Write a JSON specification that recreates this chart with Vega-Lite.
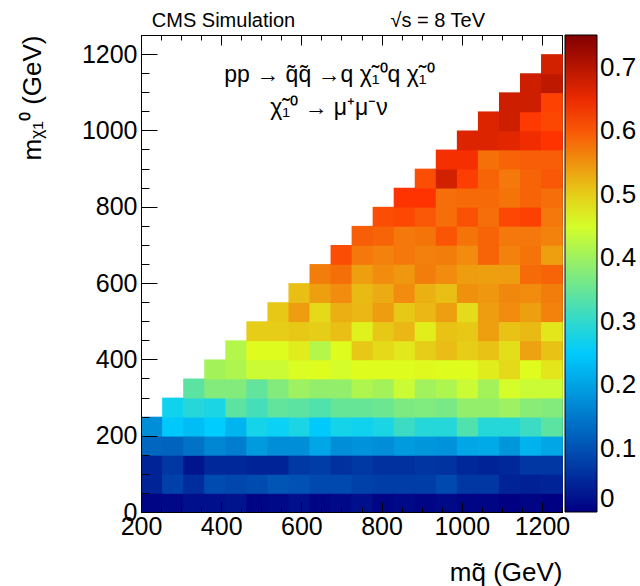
{
  "$schema": "https://vega.github.io/schema/vega-lite/v6.json",
  "width": 421,
  "height": 477,
  "autosize": {"type": "none"},
  "padding": {"left": 141, "top": 35, "right": 78, "bottom": 74},
  "background": "white",
  "config": {
    "font": "Liberation Sans",
    "view": {"stroke": "black", "strokeWidth": 1},
    "axis": {"domainColor": "black", "tickColor": "black", "labelColor": "black", "titleColor": "black", "labelFont": "Liberation Sans", "titleFont": "Liberation Sans", "labelFontSize": 25, "titleFontSize": 26, "titleFontWeight": "normal", "grid": false, "labelOverlap": false, "labelFlush": false}
  },
  "datasets": {
    "eff": [
      {"msq":200,"mchi":0,"eff":0.006},{"msq":200,"mchi":50,"eff":0.045},{"msq":200,"mchi":100,"eff":0.045},{"msq":200,"mchi":150,"eff":0.126},{"msq":200,"mchi":200,"eff":0.175},
      {"msq":252.5,"mchi":0,"eff":0.01},{"msq":252.5,"mchi":50,"eff":0.08},{"msq":252.5,"mchi":100,"eff":0.068},{"msq":252.5,"mchi":150,"eff":0.124},{"msq":252.5,"mchi":200,"eff":0.247},{"msq":252.5,"mchi":250,"eff":0.27},
      {"msq":305,"mchi":0,"eff":0.02},{"msq":305,"mchi":50,"eff":0.055},{"msq":305,"mchi":100,"eff":0.025},{"msq":305,"mchi":150,"eff":0.142},{"msq":305,"mchi":200,"eff":0.235},{"msq":305,"mchi":250,"eff":0.29},{"msq":305,"mchi":300,"eff":0.34},
      {"msq":357.5,"mchi":0,"eff":0.02},{"msq":357.5,"mchi":50,"eff":0.093},{"msq":357.5,"mchi":100,"eff":0.05},{"msq":357.5,"mchi":150,"eff":0.167},{"msq":357.5,"mchi":200,"eff":0.253},{"msq":357.5,"mchi":250,"eff":0.28},{"msq":357.5,"mchi":300,"eff":0.375},{"msq":357.5,"mchi":350,"eff":0.405},
      {"msq":410,"mchi":0,"eff":0.025},{"msq":410,"mchi":50,"eff":0.086},{"msq":410,"mchi":100,"eff":0.05},{"msq":410,"mchi":150,"eff":0.155},{"msq":410,"mchi":200,"eff":0.222},{"msq":410,"mchi":250,"eff":0.34},{"msq":410,"mchi":300,"eff":0.375},{"msq":410,"mchi":350,"eff":0.415},{"msq":410,"mchi":400,"eff":0.42},
      {"msq":462.5,"mchi":0,"eff":0.006},{"msq":462.5,"mchi":50,"eff":0.093},{"msq":462.5,"mchi":100,"eff":0.045},{"msq":462.5,"mchi":150,"eff":0.19},{"msq":462.5,"mchi":200,"eff":0.275},{"msq":462.5,"mchi":250,"eff":0.32},{"msq":462.5,"mchi":300,"eff":0.345},{"msq":462.5,"mchi":350,"eff":0.44},{"msq":462.5,"mchi":400,"eff":0.46},{"msq":462.5,"mchi":450,"eff":0.5},
      {"msq":515,"mchi":0,"eff":0.012},{"msq":515,"mchi":50,"eff":0.105},{"msq":515,"mchi":100,"eff":0.045},{"msq":515,"mchi":150,"eff":0.175},{"msq":515,"mchi":200,"eff":0.265},{"msq":515,"mchi":250,"eff":0.345},{"msq":515,"mchi":300,"eff":0.375},{"msq":515,"mchi":350,"eff":0.44},{"msq":515,"mchi":400,"eff":0.46},{"msq":515,"mchi":450,"eff":0.5},{"msq":515,"mchi":500,"eff":0.505},
      {"msq":567.5,"mchi":0,"eff":0.02},{"msq":567.5,"mchi":50,"eff":0.1},{"msq":567.5,"mchi":100,"eff":0.07},{"msq":567.5,"mchi":150,"eff":0.175},{"msq":567.5,"mchi":200,"eff":0.28},{"msq":567.5,"mchi":250,"eff":0.34},{"msq":567.5,"mchi":300,"eff":0.4},{"msq":567.5,"mchi":350,"eff":0.455},{"msq":567.5,"mchi":400,"eff":0.475},{"msq":567.5,"mchi":450,"eff":0.505},{"msq":567.5,"mchi":500,"eff":0.543},{"msq":567.5,"mchi":550,"eff":0.514},
      {"msq":620,"mchi":0,"eff":0.006},{"msq":620,"mchi":50,"eff":0.09},{"msq":620,"mchi":100,"eff":0.075},{"msq":620,"mchi":150,"eff":0.205},{"msq":620,"mchi":200,"eff":0.25},{"msq":620,"mchi":250,"eff":0.33},{"msq":620,"mchi":300,"eff":0.39},{"msq":620,"mchi":350,"eff":0.46},{"msq":620,"mchi":400,"eff":0.42},{"msq":620,"mchi":450,"eff":0.5},{"msq":620,"mchi":500,"eff":0.49},{"msq":620,"mchi":550,"eff":0.54},{"msq":620,"mchi":600,"eff":0.569},
      {"msq":672.5,"mchi":0,"eff":0.012},{"msq":672.5,"mchi":50,"eff":0.09},{"msq":672.5,"mchi":100,"eff":0.06},{"msq":672.5,"mchi":150,"eff":0.175},{"msq":672.5,"mchi":200,"eff":0.275},{"msq":672.5,"mchi":250,"eff":0.35},{"msq":672.5,"mchi":300,"eff":0.39},{"msq":672.5,"mchi":350,"eff":0.45},{"msq":672.5,"mchi":400,"eff":0.46},{"msq":672.5,"mchi":450,"eff":0.514},{"msq":672.5,"mchi":500,"eff":0.527},{"msq":672.5,"mchi":550,"eff":0.556},{"msq":672.5,"mchi":600,"eff":0.581},{"msq":672.5,"mchi":650,"eff":0.61},
      {"msq":725,"mchi":0,"eff":0.02},{"msq":725,"mchi":50,"eff":0.08},{"msq":725,"mchi":100,"eff":0.07},{"msq":725,"mchi":150,"eff":0.18},{"msq":725,"mchi":200,"eff":0.27},{"msq":725,"mchi":250,"eff":0.35},{"msq":725,"mchi":300,"eff":0.415},{"msq":725,"mchi":350,"eff":0.46},{"msq":725,"mchi":400,"eff":0.505},{"msq":725,"mchi":450,"eff":0.47},{"msq":725,"mchi":500,"eff":0.52},{"msq":725,"mchi":550,"eff":0.518},{"msq":725,"mchi":600,"eff":0.54},{"msq":725,"mchi":650,"eff":0.573},{"msq":725,"mchi":700,"eff":0.595},
      {"msq":777.5,"mchi":0,"eff":0.006},{"msq":777.5,"mchi":50,"eff":0.075},{"msq":777.5,"mchi":100,"eff":0.06},{"msq":777.5,"mchi":150,"eff":0.175},{"msq":777.5,"mchi":200,"eff":0.28},{"msq":777.5,"mchi":250,"eff":0.355},{"msq":777.5,"mchi":300,"eff":0.405},{"msq":777.5,"mchi":350,"eff":0.46},{"msq":777.5,"mchi":400,"eff":0.49},{"msq":777.5,"mchi":450,"eff":0.505},{"msq":777.5,"mchi":500,"eff":0.543},{"msq":777.5,"mchi":550,"eff":0.53},{"msq":777.5,"mchi":600,"eff":0.556},{"msq":777.5,"mchi":650,"eff":0.565},{"msq":777.5,"mchi":700,"eff":0.59},{"msq":777.5,"mchi":750,"eff":0.61},
      {"msq":830,"mchi":0,"eff":0.012},{"msq":830,"mchi":50,"eff":0.075},{"msq":830,"mchi":100,"eff":0.06},{"msq":830,"mchi":150,"eff":0.19},{"msq":830,"mchi":200,"eff":0.31},{"msq":830,"mchi":250,"eff":0.37},{"msq":830,"mchi":300,"eff":0.44},{"msq":830,"mchi":350,"eff":0.46},{"msq":830,"mchi":400,"eff":0.478},{"msq":830,"mchi":450,"eff":0.52},{"msq":830,"mchi":500,"eff":0.505},{"msq":830,"mchi":550,"eff":0.556},{"msq":830,"mchi":600,"eff":0.547},{"msq":830,"mchi":650,"eff":0.573},{"msq":830,"mchi":700,"eff":0.573},{"msq":830,"mchi":750,"eff":0.614},{"msq":830,"mchi":800,"eff":0.632},
      {"msq":882.5,"mchi":0,"eff":0.006},{"msq":882.5,"mchi":50,"eff":0.075},{"msq":882.5,"mchi":100,"eff":0.065},{"msq":882.5,"mchi":150,"eff":0.185},{"msq":882.5,"mchi":200,"eff":0.29},{"msq":882.5,"mchi":250,"eff":0.373},{"msq":882.5,"mchi":300,"eff":0.403},{"msq":882.5,"mchi":350,"eff":0.465},{"msq":882.5,"mchi":400,"eff":0.5},{"msq":882.5,"mchi":450,"eff":0.473},{"msq":882.5,"mchi":500,"eff":0.52},{"msq":882.5,"mchi":550,"eff":0.525},{"msq":882.5,"mchi":600,"eff":0.569},{"msq":882.5,"mchi":650,"eff":0.567},{"msq":882.5,"mchi":700,"eff":0.577},{"msq":882.5,"mchi":750,"eff":0.6},{"msq":882.5,"mchi":800,"eff":0.632},{"msq":882.5,"mchi":850,"eff":0.61},
      {"msq":935,"mchi":0,"eff":0.012},{"msq":935,"mchi":50,"eff":0.09},{"msq":935,"mchi":100,"eff":0.062},{"msq":935,"mchi":150,"eff":0.18},{"msq":935,"mchi":200,"eff":0.29},{"msq":935,"mchi":250,"eff":0.365},{"msq":935,"mchi":300,"eff":0.415},{"msq":935,"mchi":350,"eff":0.46},{"msq":935,"mchi":400,"eff":0.515},{"msq":935,"mchi":450,"eff":0.51},{"msq":935,"mchi":500,"eff":0.54},{"msq":935,"mchi":550,"eff":0.514},{"msq":935,"mchi":600,"eff":0.556},{"msq":935,"mchi":650,"eff":0.569},{"msq":935,"mchi":700,"eff":0.603},{"msq":935,"mchi":750,"eff":0.582},{"msq":935,"mchi":800,"eff":0.582},{"msq":935,"mchi":850,"eff":0.675},{"msq":935,"mchi":900,"eff":0.64},
      {"msq":987.5,"mchi":0,"eff":0.006},{"msq":987.5,"mchi":50,"eff":0.068},{"msq":987.5,"mchi":100,"eff":0.05},{"msq":987.5,"mchi":150,"eff":0.205},{"msq":987.5,"mchi":200,"eff":0.33},{"msq":987.5,"mchi":250,"eff":0.39},{"msq":987.5,"mchi":300,"eff":0.44},{"msq":987.5,"mchi":350,"eff":0.46},{"msq":987.5,"mchi":400,"eff":0.5},{"msq":987.5,"mchi":450,"eff":0.505},{"msq":987.5,"mchi":500,"eff":0.488},{"msq":987.5,"mchi":550,"eff":0.552},{"msq":987.5,"mchi":600,"eff":0.543},{"msq":987.5,"mchi":650,"eff":0.556},{"msq":987.5,"mchi":700,"eff":0.577},{"msq":987.5,"mchi":750,"eff":0.606},{"msq":987.5,"mchi":800,"eff":0.585},{"msq":987.5,"mchi":850,"eff":0.622},{"msq":987.5,"mchi":900,"eff":0.64},{"msq":987.5,"mchi":950,"eff":0.665},
      {"msq":1040,"mchi":0,"eff":0.006},{"msq":1040,"mchi":50,"eff":0.068},{"msq":1040,"mchi":100,"eff":0.045},{"msq":1040,"mchi":150,"eff":0.21},{"msq":1040,"mchi":200,"eff":0.29},{"msq":1040,"mchi":250,"eff":0.39},{"msq":1040,"mchi":300,"eff":0.405},{"msq":1040,"mchi":350,"eff":0.475},{"msq":1040,"mchi":400,"eff":0.51},{"msq":1040,"mchi":450,"eff":0.54},{"msq":1040,"mchi":500,"eff":0.543},{"msq":1040,"mchi":550,"eff":0.547},{"msq":1040,"mchi":600,"eff":0.54},{"msq":1040,"mchi":650,"eff":0.59},{"msq":1040,"mchi":700,"eff":0.59},{"msq":1040,"mchi":750,"eff":0.582},{"msq":1040,"mchi":800,"eff":0.585},{"msq":1040,"mchi":850,"eff":0.59},{"msq":1040,"mchi":900,"eff":0.58},{"msq":1040,"mchi":950,"eff":0.665},{"msq":1040,"mchi":1000,"eff":0.665},
      {"msq":1092.5,"mchi":0,"eff":0.0},{"msq":1092.5,"mchi":50,"eff":0.045},{"msq":1092.5,"mchi":100,"eff":0.05},{"msq":1092.5,"mchi":150,"eff":0.185},{"msq":1092.5,"mchi":200,"eff":0.29},{"msq":1092.5,"mchi":250,"eff":0.4},{"msq":1092.5,"mchi":300,"eff":0.45},{"msq":1092.5,"mchi":350,"eff":0.49},{"msq":1092.5,"mchi":400,"eff":0.487},{"msq":1092.5,"mchi":450,"eff":0.51},{"msq":1092.5,"mchi":500,"eff":0.556},{"msq":1092.5,"mchi":550,"eff":0.56},{"msq":1092.5,"mchi":600,"eff":0.543},{"msq":1092.5,"mchi":650,"eff":0.565},{"msq":1092.5,"mchi":700,"eff":0.573},{"msq":1092.5,"mchi":750,"eff":0.614},{"msq":1092.5,"mchi":800,"eff":0.577},{"msq":1092.5,"mchi":850,"eff":0.573},{"msq":1092.5,"mchi":900,"eff":0.59},{"msq":1092.5,"mchi":950,"eff":0.66},{"msq":1092.5,"mchi":1000,"eff":0.68},{"msq":1092.5,"mchi":1050,"eff":0.68},
      {"msq":1145,"mchi":0,"eff":0.006},{"msq":1145,"mchi":50,"eff":0.04},{"msq":1145,"mchi":100,"eff":0.068},{"msq":1145,"mchi":150,"eff":0.22},{"msq":1145,"mchi":200,"eff":0.31},{"msq":1145,"mchi":250,"eff":0.38},{"msq":1145,"mchi":300,"eff":0.44},{"msq":1145,"mchi":350,"eff":0.46},{"msq":1145,"mchi":400,"eff":0.537},{"msq":1145,"mchi":450,"eff":0.518},{"msq":1145,"mchi":500,"eff":0.54},{"msq":1145,"mchi":550,"eff":0.556},{"msq":1145,"mchi":600,"eff":0.585},{"msq":1145,"mchi":650,"eff":0.577},{"msq":1145,"mchi":700,"eff":0.573},{"msq":1145,"mchi":750,"eff":0.62},{"msq":1145,"mchi":800,"eff":0.59},{"msq":1145,"mchi":850,"eff":0.59},{"msq":1145,"mchi":900,"eff":0.595},{"msq":1145,"mchi":950,"eff":0.645},{"msq":1145,"mchi":1000,"eff":0.627},{"msq":1145,"mchi":1050,"eff":0.68},{"msq":1145,"mchi":1100,"eff":0.68},
      {"msq":1197.5,"mchi":0,"eff":0.0},{"msq":1197.5,"mchi":50,"eff":0.045},{"msq":1197.5,"mchi":100,"eff":0.068},{"msq":1197.5,"mchi":150,"eff":0.205},{"msq":1197.5,"mchi":200,"eff":0.34},{"msq":1197.5,"mchi":250,"eff":0.375},{"msq":1197.5,"mchi":300,"eff":0.44},{"msq":1197.5,"mchi":350,"eff":0.48},{"msq":1197.5,"mchi":400,"eff":0.51},{"msq":1197.5,"mchi":450,"eff":0.48},{"msq":1197.5,"mchi":500,"eff":0.565},{"msq":1197.5,"mchi":550,"eff":0.569},{"msq":1197.5,"mchi":600,"eff":0.59},{"msq":1197.5,"mchi":650,"eff":0.54},{"msq":1197.5,"mchi":700,"eff":0.565},{"msq":1197.5,"mchi":750,"eff":0.573},{"msq":1197.5,"mchi":800,"eff":0.582},{"msq":1197.5,"mchi":850,"eff":0.6},{"msq":1197.5,"mchi":900,"eff":0.595},{"msq":1197.5,"mchi":950,"eff":0.632},{"msq":1197.5,"mchi":1000,"eff":0.615},{"msq":1197.5,"mchi":1050,"eff":0.62},{"msq":1197.5,"mchi":1100,"eff":0.694},{"msq":1197.5,"mchi":1150,"eff":0.675}
    ],
    "note": [{"id": 1}]
  },
  "resolve": {"axis": {"x": "independent"}},
  "layer": [
    {
      "data": {"name": "eff"},
      "mark": {"type": "rect", "strokeWidth": 0, "binSpacing": 0, "xOffset": 0.4, "x2Offset": -0.4, "yOffset": -0.4, "y2Offset": 0.4},
      "encoding": {
        "x": {
          "field": "msq", "type": "quantitative",
          "bin": {"step": 52.5, "extent": [200, 1250], "nice": false},
          "scale": {"domain": [200, 1250], "nice": false, "zero": false},
          "axis": {
            "orient": "bottom",
            "values": [200,250,300,350,400,450,500,550,600,650,700,750,800,850,900,950,1000,1050,1100,1150,1200,1250],
            "format": "d",
            "labelExpr": "datum.value % 200 === 0 ? datum.label : ''",
            "tickSize": {"condition": {"test": "datum.value % 200 === 0", "value": -10}, "value": -5},
            "labelPadding": 12,
            "title": "mq̃  (GeV)",
            "titleAnchor": "end",
            "titleAlign": "right",
            "titleBaseline": "alphabetic",
            "titleX": 421,
            "titleY": 68
          }
        },
        "y": {
          "field": "mchi", "type": "quantitative",
          "bin": {"step": 50, "extent": [0, 1250], "nice": false},
          "scale": {"domain": [0, 1250], "nice": false, "zero": false},
          "axis": {
            "values": [0,50,100,150,200,250,300,350,400,450,500,550,600,650,700,750,800,850,900,950,1000,1050,1100,1150,1200,1250],
            "format": "d",
            "labelExpr": "datum.value % 200 === 0 ? datum.label : ''",
            "tickSize": {"condition": {"test": "datum.value % 200 === 0", "value": -16}, "value": -8},
            "labelPadding": 20,
            "title": "mᵪ₁⁰  (GeV)",
            "titleAngle": -90,
            "titleAlign": "right",
            "titleBaseline": "alphabetic",
            "titleX": -101,
            "titleY": 0
          }
        },
        "color": {
          "field": "eff", "type": "quantitative",
          "scale": {"domain": [0, 0.2557, 0.4587, 0.6317, 0.752], "range": ["#000082", "#00cfff", "#deff1f", "#ff3300", "#820000"], "interpolate": "rgb"},
          "legend": {
            "orient": "right", "offset": 3, "title": null, "direction": "vertical",
            "gradientLength": 477, "gradientThickness": 32,
            "values": [0, 0.1, 0.2, 0.3, 0.4, 0.5, 0.6, 0.7],
            "format": ".1~f",
            "labelFont": "Liberation Sans", "labelFontSize": 26, "labelColor": "black",
            "labelOffset": 3, "labelOverlap": false, "labelBaseline": "middle",
            "gradientStrokeColor": "black", "gradientStrokeWidth": 1, "padding": 0
          }
        }
      }
    },
    {
      "data": {"name": "note"},
      "mark": {"type": "text", "text": "CMS Simulation", "align": "left", "baseline": "alphabetic", "fontSize": 20, "font": "Liberation Sans", "color": "black"},
      "encoding": {
        "x": {"datum": 227, "type": "quantitative", "axis": {
          "orient": "top",
          "values": [200,250,300,350,400,450,500,550,600,650,700,750,800,850,900,950,1000,1050,1100,1150,1200,1250],
          "labels": false, "title": null,
          "tickSize": {"condition": {"test": "datum.value % 200 === 0", "value": -10}, "value": -5}
        }},
        "y": {"datum": 1272, "type": "quantitative"}
      }
    },
    {
      "data": {"name": "note"},
      "mark": {"type": "text", "text": "√s = 8 TeV", "align": "center", "baseline": "alphabetic", "fontSize": 20, "font": "Liberation Sans", "color": "black"},
      "encoding": {
        "x": {"datum": 940, "type": "quantitative", "axis": null},
        "y": {"datum": 1272, "type": "quantitative"}
      }
    },
    {
      "data": {"name": "note"},
      "mark": {"type": "text", "text": "pp → q̃q̃ →q χ̃₁⁰q χ̃₁⁰", "align": "center", "baseline": "alphabetic", "fontSize": 23, "font": "Liberation Sans", "color": "black"},
      "encoding": {
        "x": {"datum": 670, "type": "quantitative", "axis": null},
        "y": {"datum": 1127, "type": "quantitative"}
      }
    },
    {
      "data": {"name": "note"},
      "mark": {"type": "text", "text": "χ̃₁⁰ → μ⁺μ⁻ν", "align": "center", "baseline": "alphabetic", "fontSize": 23, "font": "Liberation Sans", "color": "black"},
      "encoding": {
        "x": {"datum": 669, "type": "quantitative", "axis": null},
        "y": {"datum": 1040, "type": "quantitative"}
      }
    }
  ]
}
